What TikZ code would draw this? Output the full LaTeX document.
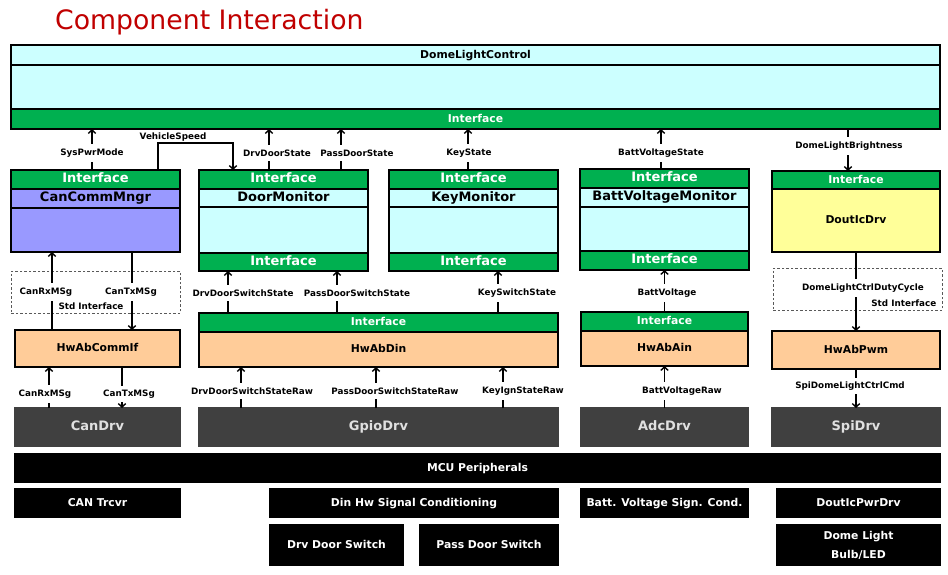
\documentclass[tikz,border=0pt]{standalone}
\usepackage{fontspec}
\setmainfont{DejaVu Sans}
\usetikzlibrary{arrows.meta}
\definecolor{cy}{HTML}{CCFFFF}
\definecolor{grn}{HTML}{00B050}
\definecolor{pur}{HTML}{9999FF}
\definecolor{yel}{HTML}{FFFF99}
\definecolor{pch}{HTML}{FFCC99}
\definecolor{dk}{HTML}{404040}
\definecolor{ttl}{HTML}{C00000}
\newcommand\lblf{\fontsize{8.8}{10}\selectfont\bfseries}
\newcommand\hdrf{\fontsize{10.8}{12}\selectfont\bfseries}
\newcommand\cmpf{\fontsize{13}{15}\selectfont\bfseries}
\newcommand\mybox[7]{\node[box,#6,minimum width={#4-#2},minimum height={#5-#3}] (#1) at (#2,#3) {#7};}
\tikzset{
  box/.style={draw=black, line width=1.5pt, anchor=north west, inner sep=0pt, outer sep=0pt, align=center},
  ctr/.style={text height=0.72em, text depth=0.04em},
  ifc/.style={fill=grn, text=white, font=\cmpf, ctr},
  ifs/.style={fill=grn, text=white, font=\hdrf, ctr},
  cname/.style={font=\cmpf, ctr},
  peach/.style={fill=pch, font=\hdrf, ctr},
  drv/.style={fill=dk, draw=dk, text=white!88!black, font=\cmpf, ctr},
  blk2/.style={fill=black, draw=black, text=white, font=\hdrf},
  blk/.style={blk2, ctr},
  stdbox/.style={draw=gray!70!black, line width=0.8pt, dash pattern=on 2.5pt off 2pt, anchor=north west, inner sep=0pt},
  arr/.style={line width=1.4pt, -{Straight Barb[length=3.5pt,width=7.5pt]}},
  lbl/.style={fill=white, font=\lblf, inner xsep=1.5pt, inner ysep=4.5pt},
  plain/.style={font=\lblf, inner sep=0.5pt}
}
\begin{document}
\begin{tikzpicture}[x=1pt,y=-1pt]
\useasboundingbox (0,0) rectangle (948,574);
\node[anchor=base west, text=ttl, font=\fontsize{26.7}{30}\selectfont, inner sep=0pt] (title) at (55,29) {Component Interaction};
% top component
\mybox{dlcH}{11}{45}{940}{65}{fill=cy, font=\hdrf, ctr}{DomeLightControl}
\mybox{dlcB}{11}{65}{940}{109}{fill=cy}{}
\mybox{dlcIF}{11}{109}{940}{129}{ifs}{Interface}
% CanCommMngr
\mybox{ccmIF}{11}{170}{180}{189}{ifc}{Interface}
\mybox{ccmN}{11}{189}{180}{208}{fill=pur,cname}{CanCommMngr}
\mybox{ccmB}{11}{208}{180}{252}{fill=pur}{}
% DoorMonitor
\mybox{dmIF}{199}{170}{368}{189}{ifc}{Interface}
\mybox{dmN}{199}{189}{368}{207}{fill=cy,cname}{DoorMonitor}
\mybox{dmB}{199}{207}{368}{253}{fill=cy}{}
\mybox{dmIFb}{199}{253}{368}{271}{ifc}{Interface}
% KeyMonitor
\mybox{kmIF}{389}{170}{558}{189}{ifc}{Interface}
\mybox{kmN}{389}{189}{558}{207}{fill=cy,cname}{KeyMonitor}
\mybox{kmB}{389}{207}{558}{253}{fill=cy}{}
\mybox{kmIFb}{389}{253}{558}{271}{ifc}{Interface}
% BattVoltageMonitor
\mybox{bvIF}{580}{169}{749}{188}{ifc}{Interface}
\mybox{bvN}{580}{188}{749}{207}{fill=cy,cname}{BattVoltageMonitor}
\mybox{bvB}{580}{207}{749}{251}{fill=cy}{}
\mybox{bvIFb}{580}{251}{749}{270}{ifc}{Interface}
% DoutIcDrv
\mybox{doIF}{772}{171}{940}{189}{ifs}{Interface}
\mybox{doB}{772}{189}{940}{252}{fill=yel, font=\hdrf, ctr}{DoutIcDrv}
% Std interface boxes
\node[stdbox, minimum width=169, minimum height=42] (stdL) at (11,271) {};
\node[stdbox, minimum width=169, minimum height=42] (stdR) at (773,268) {};
% HwAb layer
\mybox{hwc}{15}{330}{180}{367}{peach}{HwAbCommIf}
\mybox{dinIF}{199}{313}{558}{332}{ifs}{Interface}
\mybox{din}{199}{332}{558}{367}{peach}{HwAbDin}
\mybox{ainIF}{581}{312}{748}{331}{ifs}{Interface}
\mybox{ain}{581}{331}{748}{366}{peach}{HwAbAin}
\mybox{pwm}{772}{331}{940}{369}{peach}{HwAbPwm}
% drivers
\mybox{candrv}{15}{408}{180}{446}{drv}{CanDrv}
\mybox{gpio}{199}{408}{558}{446}{drv}{GpioDrv}
\mybox{adc}{581}{408}{748}{446}{drv}{AdcDrv}
\mybox{spi}{772}{408}{940}{446}{drv}{SpiDrv}
% hardware
\mybox{mcu}{15}{454}{940}{482}{blk}{MCU Peripherals}
\mybox{cantr}{15}{489}{180}{517}{blk}{CAN Trcvr}
\mybox{dinhw}{270}{489}{558}{517}{blk}{Din Hw Signal Conditioning}
\mybox{battsc}{581}{489}{748}{517}{blk}{Batt. Voltage Sign. Cond.}
\mybox{doutpwr}{777}{489}{940}{517}{blk}{DoutIcPwrDrv}
\mybox{drvsw}{270}{525}{403}{565}{blk}{Drv Door Switch}
\mybox{passsw}{420}{525}{558}{565}{blk}{Pass Door Switch}
\mybox{bulb}{777}{525}{940}{565}{blk2, execute at begin node=\setlength{\baselineskip}{19pt}}{Dome Light\\Bulb/LED}
% connectors top
\draw[arr] ([xshift=81]ccmIF.north west) -- ([xshift=81]dlcIF.south west);
\draw[arr] ([xshift=147]ccmIF.north west) -- ++(0,-27) -| ([xshift=34]dmIF.north west);
\draw[arr] ([xshift=70]dmIF.north west) -- ([xshift=258]dlcIF.south west);
\draw[arr] ([xshift=142]dmIF.north west) -- ([xshift=330]dlcIF.south west);
\draw[arr] ([xshift=79]kmIF.north west) -- ([xshift=457]dlcIF.south west);
\draw[arr] ([xshift=81]bvIF.north west) -- ([xshift=650]dlcIF.south west);
\draw[arr] ([xshift=837]dlcIF.south west) -- ([xshift=76]doIF.north west);
% connectors middle
\draw[arr] ([xshift=37]hwc.north west) -- ([xshift=41]ccmB.south west);
\draw[arr] ([xshift=121]ccmB.south west) -- ([xshift=117]hwc.north west);
\draw[arr] ([xshift=29]dinIF.north west) -- ([xshift=29]dmIFb.south west);
\draw[arr] ([xshift=138]dinIF.north west) -- ([xshift=138]dmIFb.south west);
\draw[arr] ([xshift=299]dinIF.north west) -- ([xshift=109]kmIFb.south west);
\draw[arr] (ainIF.north) -- (bvIFb.south);
\draw[arr] ([xshift=84]doB.south west) -- ([xshift=84]pwm.north west);
% connectors bottom
\draw[arr] ([xshift=34]candrv.north west) -- ([xshift=34]hwc.south west);
\draw[arr] ([xshift=107]hwc.south west) -- ([xshift=107]candrv.north west);
\draw[arr] ([xshift=42]gpio.north west) -- ([xshift=42]din.south west);
\draw[arr] ([xshift=177]gpio.north west) -- ([xshift=177]din.south west);
\draw[arr] ([xshift=304]gpio.north west) -- ([xshift=304]din.south west);
\draw[arr] (adc.north) -- (ain.south);
\draw[arr] ([xshift=84]pwm.south west) -- ([xshift=84]spi.north west);
% labels
\node[lbl] (lSys) at (92,153) {SysPwrMode};
\node[plain] (lVeh) at (173,137) {VehicleSpeed};
\node[lbl] (lDrvS) at (277,153) {DrvDoorState};
\node[lbl] (lPasS) at (357,153) {PassDoorState};
\node[lbl] (lKey) at (469,153) {KeyState};
\node[lbl] (lBattS) at (661,153) {BattVoltageState};
\node[lbl] (lDome) at (849,146) {DomeLightBrightness};
\node[lbl] (lRx1) at (46,292) {CanRxMSg};
\node[lbl] (lTx1) at (131,292) {CanTxMSg};
\node[plain, fill=white] (lStdL) at (91,306) {Std Interface};
\node[lbl] (lDds) at (243,293) {DrvDoorSwitchState};
\node[lbl] (lPds) at (357,293) {PassDoorSwitchState};
\node[lbl] (lKs) at (517,293) {KeySwitchState};
\node[lbl] (lBv) at (667,293) {BattVoltage};
\node[lbl] (lDuty) at (863,288) {DomeLightCtrlDutyCycle};
\node[plain, fill=white, anchor=east] (lStdR) at (937,303) {Std Interface};
\node[lbl] (lRx2) at (45,394) {CanRxMSg};
\node[lbl, inner ysep=3.5pt] (lTx2) at (129,394) {CanTxMSg};
\node[lbl] (lDdr) at (252,391) {DrvDoorSwitchStateRaw};
\node[lbl] (lPdr) at (395,391) {PassDoorSwitchStateRaw};
\node[lbl] (lKir) at (523,391) {KeyIgnStateRaw};
\node[lbl] (lBvr) at (682,391) {BattVoltageRaw};
\node[lbl, inner ysep=3.5pt] (lSpi) at (850,386) {SpiDomeLightCtrlCmd};
\end{tikzpicture}
\end{document}
